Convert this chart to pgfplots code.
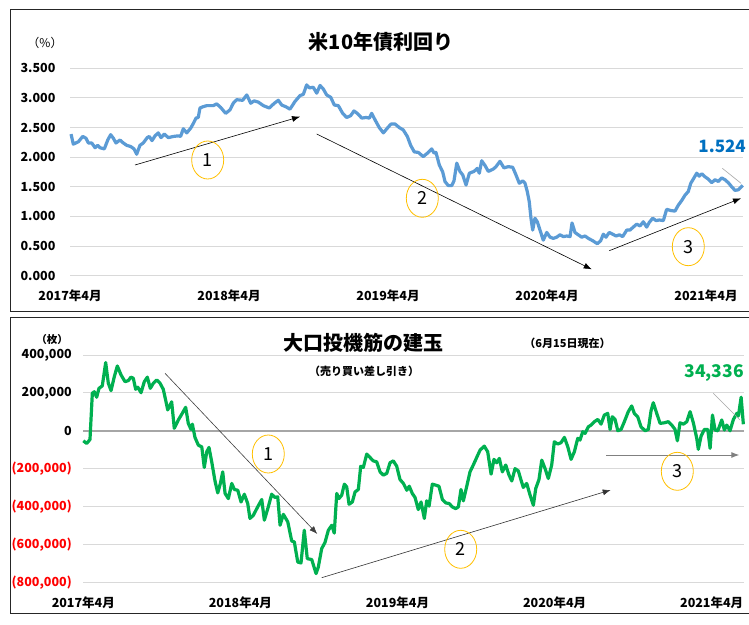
\documentclass[border=0pt]{standalone}
\usepackage{pgfplots}
\pgfplotsset{compat=1.18}
\usepackage{pgfplotstable}
\usepackage{fontspec}
\setmainfont{Noto Sans CJK JP}
\usetikzlibrary{arrows.meta,shapes.geometric}

\definecolor{yblue}{HTML}{5B9BD5}
\definecolor{tblue}{HTML}{0070C0}
\definecolor{pgreen}{HTML}{00B050}
\definecolor{gridc}{HTML}{D9D9D9}
\definecolor{circ}{HTML}{FFC000}

% 米10年債利回り (x: months from 2017-04)
\pgfplotstableread{
m y
0.08 2.39
0.25 2.22
0.63 2.26
0.96 2.35
1.21 2.32
1.38 2.24
1.64 2.24
1.89 2.16
2.09 2.20
2.26 2.16
2.59 2.14
2.85 2.29
3.07 2.38
3.27 2.32
3.47 2.24
3.77 2.29
4.02 2.24
4.28 2.20
4.58 2.18
4.83 2.14
5.03 2.05
5.28 2.20
5.53 2.24
5.83 2.33
5.98 2.35
6.19 2.28
6.42 2.36
6.66 2.41
6.87 2.33
7.12 2.39
7.42 2.33
7.80 2.35
8.17 2.36
8.35 2.35
8.55 2.48
8.81 2.41
9.11 2.49
9.31 2.57
9.51 2.66
9.68 2.67
9.81 2.83
10.02 2.85
10.32 2.87
10.82 2.87
11.07 2.90
11.37 2.84
11.75 2.74
12.08 2.80
12.32 2.91
12.58 2.97
13.03 2.96
13.34 3.05
13.64 2.91
13.89 2.95
14.21 2.93
14.59 2.87
15.04 2.83
15.42 2.91
15.72 2.96
15.98 2.88
16.30 2.85
16.60 2.81
16.98 2.94
17.36 3.04
17.61 3.06
17.86 3.22
18.06 3.17
18.36 3.18
18.62 3.08
18.87 3.21
19.12 3.15
19.37 3.05
19.68 3.01
19.95 2.88
20.25 2.87
20.58 2.74
20.88 2.67
21.18 2.70
21.43 2.78
21.68 2.74
22.02 2.66
22.34 2.67
22.59 2.66
22.77 2.74
23.02 2.63
23.34 2.50
23.65 2.41
23.95 2.49
24.23 2.56
24.53 2.56
24.85 2.50
25.15 2.46
25.46 2.35
25.71 2.20
25.98 2.09
26.29 2.08
26.66 2.01
27.04 2.08
27.30 2.14
27.47 2.07
27.62 2.08
27.87 1.87
28.13 1.75
28.30 1.59
28.55 1.52
28.81 1.52
28.98 1.60
29.19 1.90
29.43 1.76
29.64 1.70
29.89 1.53
30.14 1.73
30.49 1.76
30.74 1.81
30.89 1.73
31.07 1.94
31.32 1.86
31.57 1.76
31.95 1.80
32.15 1.84
32.45 1.93
32.75 1.82
33.08 1.84
33.41 1.83
33.66 1.70
33.91 1.56
34.17 1.60
34.34 1.56
34.51 1.42
34.66 1.25
34.79 0.97
34.92 0.77
35.09 0.97
35.27 0.91
35.47 0.77
35.72 0.60
35.98 0.73
36.23 0.65
36.48 0.63
36.73 0.65
36.98 0.69
37.23 0.66
37.49 0.67
37.74 0.66
37.89 0.89
38.11 0.73
38.36 0.69
38.62 0.65
38.87 0.67
39.12 0.63
39.45 0.59
39.80 0.54
40.05 0.59
40.25 0.70
40.45 0.65
40.70 0.73
40.96 0.70
41.21 0.67
41.46 0.69
41.71 0.66
42.02 0.77
42.26 0.77
42.51 0.82
42.77 0.87
43.02 0.84
43.27 0.91
43.52 0.82
43.72 0.90
43.98 0.97
44.23 0.93
44.48 0.94
44.78 0.93
45.03 1.12
45.34 1.10
45.66 1.09
45.91 1.19
46.17 1.27
46.42 1.36
46.66 1.42
46.85 1.56
47.04 1.63
47.30 1.73
47.49 1.68
47.68 1.72
47.92 1.67
48.17 1.63
48.43 1.57
48.68 1.62
48.93 1.59
49.18 1.65
49.43 1.62
49.68 1.57
49.94 1.50
50.19 1.44
50.44 1.45
50.77 1.524
}\yielddata

% 大口投機筋の建玉, net position in thousands of contracts
\pgfplotstableread{
m p
0.00 -53
0.26 -67
0.51 -46
0.69 198
0.84 206
1.02 177
1.20 224
1.45 237
1.71 360
1.91 251
2.12 212
2.37 286
2.60 342
2.88 295
3.19 259
3.44 265
3.64 283
3.82 277
4.00 219
4.16 230
4.41 201
4.66 259
4.89 283
5.12 224
5.35 251
5.61 268
5.86 251
6.11 219
6.29 162
6.45 110
6.75 153
6.95 13
7.26 57
7.56 92
7.82 124
8.02 39
8.23 7
8.33 35
8.53 -35
8.79 -76
9.05 -85
9.24 -194
9.43 -111
9.60 -88
9.81 -164
10.06 -265
10.27 -328
10.47 -278
10.65 -217
10.83 -331
11.08 -358
11.34 -278
11.54 -310
11.80 -314
12.05 -376
12.30 -335
12.56 -384
12.73 -463
12.99 -446
13.32 -402
13.63 -363
13.83 -472
14.13 -402
14.39 -335
14.64 -352
14.85 -349
15.03 -499
15.28 -441
15.62 -481
15.92 -582
16.12 -587
16.38 -693
16.63 -698
16.88 -525
17.11 -675
17.45 -680
17.78 -754
17.95 -720
18.21 -622
18.46 -590
18.72 -525
18.98 -499
19.17 -540
19.36 -331
19.53 -358
19.74 -340
19.94 -282
20.12 -296
20.30 -388
20.55 -376
20.76 -323
21.01 -310
21.19 -187
21.39 -194
21.65 -123
21.90 -141
22.15 -159
22.41 -164
22.67 -217
22.92 -234
23.18 -225
23.43 -169
23.68 -159
23.94 -187
24.19 -257
24.45 -278
24.71 -314
24.90 -293
25.13 -331
25.34 -352
25.59 -416
25.80 -376
26.05 -463
26.23 -370
26.41 -398
26.66 -282
26.92 -287
27.17 -293
27.43 -363
27.69 -381
27.94 -384
28.19 -402
28.45 -411
28.65 -402
28.85 -310
29.03 -370
29.29 -293
29.54 -217
29.79 -181
30.05 -141
30.31 -102
30.63 -81
30.89 -111
31.15 -229
31.37 -151
31.58 -169
31.78 -146
32.01 -217
32.27 -181
32.52 -234
32.73 -265
32.98 -200
33.23 -212
33.44 -261
33.61 -299
33.87 -278
34.13 -340
34.38 -393
34.56 -305
34.81 -257
35.02 -155
35.27 -199
35.52 -252
35.78 -181
35.98 -58
36.24 -70
36.49 -63
36.75 -35
37.01 -85
37.26 -151
37.51 -111
37.77 -40
37.94 -49
38.15 -5
38.33 -14
38.58 21
38.79 30
39.04 48
39.30 60
39.55 35
39.80 83
40.06 92
40.24 7
40.41 74
40.62 60
40.83 0
41.08 7
41.33 48
41.63 101
41.89 131
42.09 92
42.35 74
42.60 21
42.91 0
43.16 7
43.37 106
43.54 148
43.80 92
44.06 39
44.38 42
44.69 48
44.95 30
45.20 7
45.38 -53
45.58 42
45.84 35
46.10 48
46.35 101
46.60 42
46.86 -40
46.98 -98
47.19 -28
47.44 7
47.70 7
47.88 -93
48.06 83
48.26 4
48.47 0
48.77 57
48.97 4
49.15 30
49.40 0
49.66 60
49.92 92
50.04 78
50.25 177
50.42 34.336
}\posdata

\pgfplotsset{
  panel/.style={
    scale only axis, clip=false,
    axis line style={draw=none},
    major tick length=0pt,
    ymajorgrids, grid style={gridc, line width=0.9pt},
    xtick={0,12,24,36,48},
    xticklabels={2017年4月,2018年4月,2019年4月,2020年4月,2021年4月},
    tick label style={font=\fontsize{12.5}{13}\selectfont\bfseries},
    xticklabel style={anchor=center, yshift=-20pt},
  },
}
\tikzset{
  circ/.style={draw=circ, line width=0.8pt, ellipse, minimum width=32pt, minimum height=38pt,
    inner sep=0pt, font=\fontsize{18}{18}\selectfont},
  ann/.style={-{Latex[length=8pt,width=6pt]}, line width=0.6pt},
}

\begin{document}
\begin{tikzpicture}[x=1pt,y=1pt]
\useasboundingbox (0pt,0pt) rectangle (749pt,624pt);
\fill[white] (0,0) rectangle (749,624);

% ---- top panel ----
\draw[black!85, line width=1pt] (10,614) rectangle (770,312.3);
\begin{axis}[panel, at={(70pt,348.3pt)}, anchor=south west,
  width=673.1pt, height=207.4pt,
  xmin=0, xmax=50.8, ymin=0, ymax=3.5,
  ytick={0,0.5,...,3.5},
  yticklabel style={anchor=east, xshift=-11pt,
    /pgf/number format/.cd, fixed, fixed zerofill, precision=3, assume math mode=true},
]
\addplot[yblue, line width=3.2pt, line join=round] table[x=m, y=y] {\yielddata};
\end{axis}
\node[font=\fontsize{20}{20}\selectfont\bfseries] at (381,582.3) {米10年債利回り};
\node[font=\fontsize{12}{12}\selectfont] at (45,580.7) {（\%）};
\node[text=tblue, font=\fontsize{17}{17}\selectfont\bfseries, anchor=east, inner sep=0pt] at (746,477.3) {1.524};
\draw[black!35, line width=0.6pt] (722.3,455.7) -- (741,440.7);
\draw[ann] (135,459) -- (300,507.3);
\draw[ann] (316.7,490) -- (591.7,354.7);
\draw[ann] (609.3,373.3) -- (741,425.7);
\node[circ] at (207.7,464) {1};
\node[circ] at (422.3,425.7) {2};
\node[circ] at (688.3,377.3) {3};

% ---- bottom panel ----
\draw[black!85, line width=1pt] (10,306.7) rectangle (770,10.7);
\begin{axis}[panel, at={(83.3pt,41.7pt)}, anchor=south west,
  width=661.1pt, height=227.3pt,
  xmin=0, xmax=50.5, ymin=-800, ymax=400,
  ytick={-800,-600,-400,-200,0,200,400},
  yticklabels={{\color{red}(800,000)},{\color{red}(600,000)},{\color{red}(400,000)},{\color{red}(200,000)},0,{200,000},{400,000}},
  yticklabel style={anchor=east, xshift=-8pt},
  extra y ticks={0}, extra y tick labels={},
  extra y tick style={grid style={black!35, line width=1.8pt}},
]
\addplot[pgreen, line width=3.2pt, line join=round] table[x=m, y=p] {\posdata};
\end{axis}
\node[font=\fontsize{20}{20}\selectfont\bfseries] at (363,280.7) {大口投機筋の建玉};
\node[font=\fontsize{11}{11}\selectfont\bfseries] at (567.5,280.7) {（6月15日現在）};
\node[font=\fontsize{11}{11}\selectfont\bfseries] at (364,252.3) {（売り買い差し引き）};
\node[font=\fontsize{10.5}{10.5}\selectfont\bfseries] at (52,284) {（枚）};
\node[text=pgreen, font=\fontsize{17.5}{17.5}\selectfont\bfseries, anchor=east, inner sep=0pt] at (744,250.7) {34,336};
\draw[black!35, line width=0.6pt] (713.3,230.7) -- (740,204);
\draw[ann, black!75] (165,250.7) -- (317.3,90);
\draw[ann, black!80] (321.7,46.3) -- (610.7,134);
\draw[ann, draw=black!50, line width=0.9pt] (606,169) -- (739.3,169);
\node[circ] at (268.3,170) {1};
\node[circ] at (460.7,74.7) {2};
\node[circ] at (677.3,152.7) {3};
\end{tikzpicture}
\end{document}
